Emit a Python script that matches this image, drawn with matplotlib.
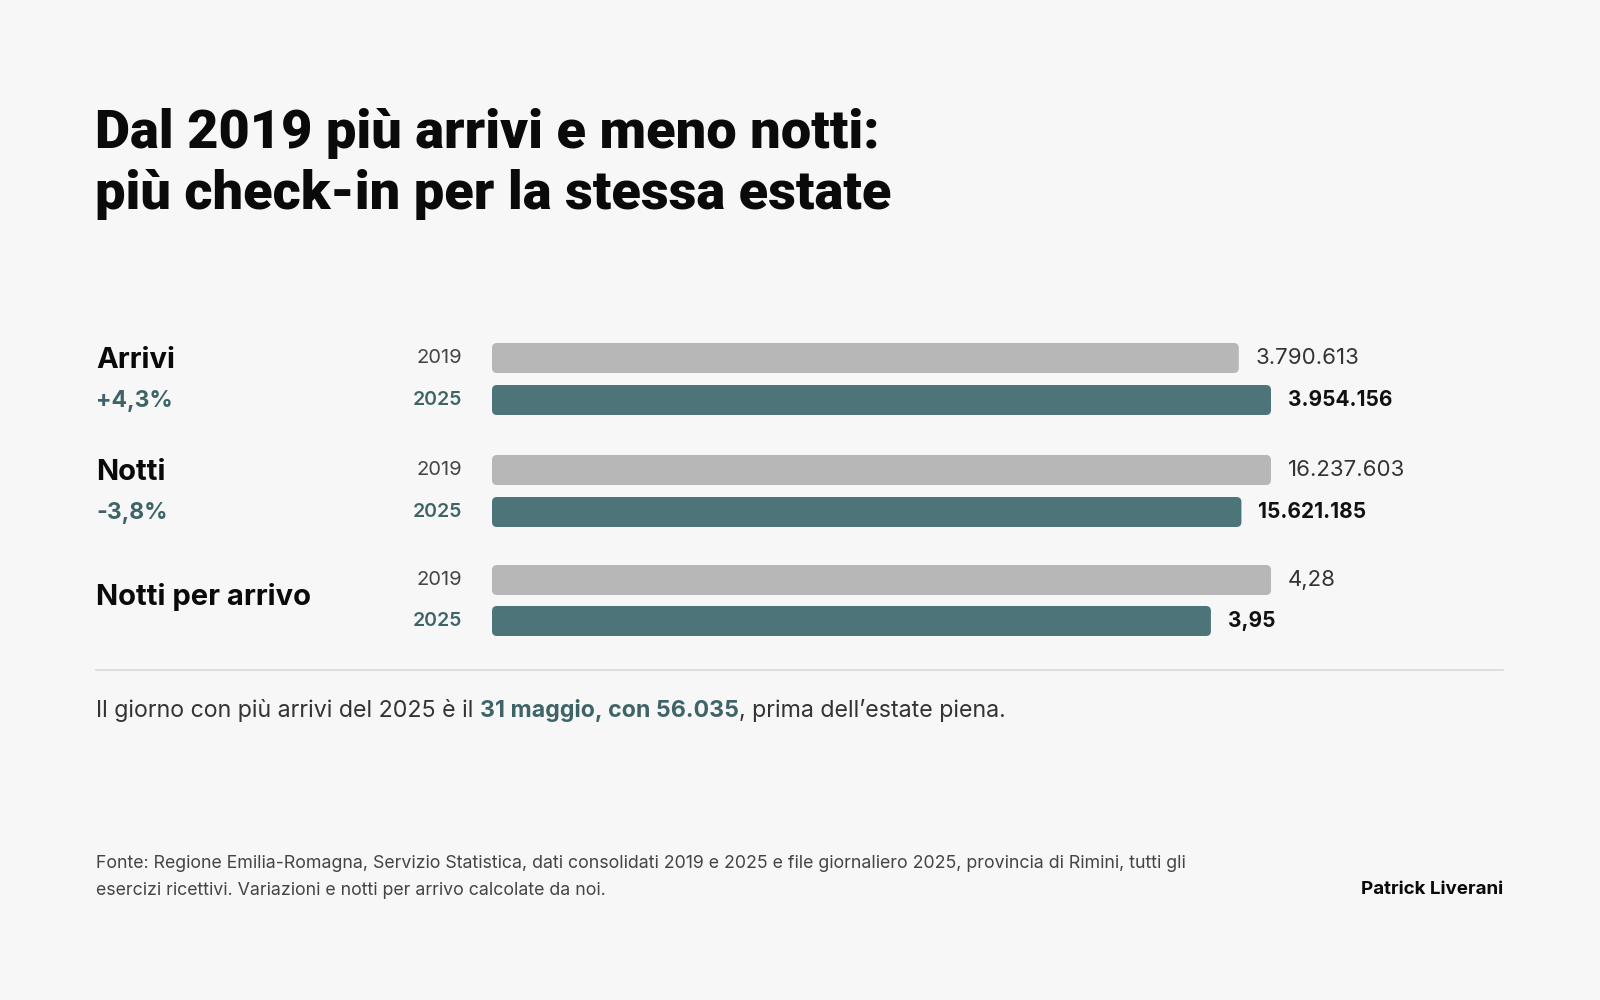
import matplotlib
matplotlib.use("Agg")
import matplotlib.pyplot as plt
from matplotlib.patches import FancyBboxPatch

# ---- data ----
groups = ["Arrivi", "Notti", "Notti per arrivo"]
changes = ["+4,3%", "-3,8%", ""]
years = ["2019", "2025"]
values_2019 = [3790613, 16237603, 4.28]
values_2025 = [3954156, 15621185, 3.95]
labels_2019 = ["3.790.613", "16.237.603", "4,28"]
labels_2025 = ["3.954.156", "15.621.185", "3,95"]

title_lines = ["Dal 2019 più arrivi e meno notti:", "più check-in per la stessa estate"]
note_parts = ["Il giorno con più arrivi del 2025 è il ", "31 maggio, con 56.035", ", prima dell\u2019estate piena."]
source = ("Fonte: Regione Emilia-Romagna, Servizio Statistica, dati consolidati 2019 e 2025 e file giornaliero 2025, provincia di Rimini, tutti gli\n"
          "esercizi ricettivi. Variazioni e notti per arrivo calcolate da noi.")
author = "Patrick Liverani"

# ---- style ----
BG = "#f7f7f7"
GRAY = "#b7b7b7"
TEAL = "#4d7479"
TEAL_TXT = "#3f6468"
DARK = "#333333"
FONT = "Inter"

W, H = 1600, 1000
fig = plt.figure(figsize=(16, 10), dpi=100, facecolor=BG)

def fx(px):
    return px / W

def fy(py):
    return 1 - py / H

LEFT = 96
RIGHT = 1503
BAR_X0 = 492
BAR_X1 = 1271
BAR_H = 30

for ln, base in zip(title_lines, [148, 209]):
    fig.text(fx(LEFT - 1), fy(base), ln, ha="left", va="baseline",
             fontsize=39, fontweight="black", family=["Roboto", "DejaVu Sans"],
             color="#0a0a0a")

group_centers = [(358, 400), (470, 512), (580, 621)]
label_y = [(360, 401), (472, 513), (597, None)]

for i, g in enumerate(groups):
    y19, y25 = group_centers[i]
    top = y19 - BAR_H / 2 - 5
    bot = y25 + BAR_H / 2 + 5
    ax = fig.add_axes([fx(BAR_X0), fy(bot), fx(BAR_X1 - BAR_X0), (bot - top) / H])
    ax.set_axis_off()
    gmax = max(values_2019[i], values_2025[i])
    ax.set_xlim(0, gmax)
    ax.set_ylim(bot, top)
    bars = ax.barh([y19, y25], [values_2019[i], values_2025[i]], height=BAR_H,
                   color=[GRAY, TEAL])
    aspect = (BAR_X1 - BAR_X0) / gmax
    r = 5 / aspect
    for b in bars:
        x0, y0 = b.get_x(), b.get_y()
        w, h = b.get_width(), b.get_height()
        p = FancyBboxPatch((x0, y0), w, h, boxstyle=f"round,pad=0,rounding_size={r}",
                           mutation_aspect=aspect, facecolor=b.get_facecolor(),
                           edgecolor="none")
        b.set_visible(False)
        ax.add_patch(p)
    # value labels
    ax.text(values_2019[i] + 17 / aspect, y19, labels_2019[i], ha="left", va="center",
            fontsize=16, family=FONT, color=DARK, clip_on=False)
    ax.text(values_2025[i] + 17 / aspect, y25, labels_2025[i], ha="left", va="center",
            fontsize=15, family=FONT, fontweight="bold", color="#111111", clip_on=False)
    # year labels
    fig.text(fx(462), fy(y19), years[0], ha="right", va="center", fontsize=14.5,
             family=FONT, color="#444444")
    fig.text(fx(462), fy(y25), years[1], ha="right", va="center", fontsize=14,
             family=FONT, fontweight="semibold", color=TEAL_TXT)
    # group labels
    gy, cy = label_y[i]
    fig.text(fx(LEFT), fy(gy), g, ha="left", va="center", fontsize=21,
             family=FONT, fontweight="bold", color="#0a0a0a")
    if changes[i]:
        fig.text(fx(LEFT), fy(cy), changes[i], ha="left", va="center", fontsize=16.5,
                 family=FONT, fontweight="bold", color=TEAL_TXT)

# separator
fig.add_artist(plt.Line2D([fx(LEFT), fx(RIGHT)], [fy(670), fy(670)], color="#d8d8d8", lw=1.2))

# note sentence with mixed styles
fig.canvas.draw()
renderer = fig.canvas.get_renderer()
x = LEFT
styles = [("normal", DARK), ("bold", TEAL_TXT), ("normal", DARK)]
for part, (wt, col) in zip(note_parts, styles):
    t = fig.text(fx(x), fy(710), part, ha="left", va="center", fontsize=16.7,
                 family=FONT, fontweight=wt, color=col)
    bb = t.get_window_extent(renderer=renderer)
    x += bb.width

# footer
fig.text(fx(LEFT), fy(877), source, ha="left", va="center", fontsize=12.8, family=FONT,
         color="#444444", linespacing=1.7)
fig.text(fx(RIGHT), fy(890), author, ha="right", va="center", fontsize=13.5, family=FONT,
         fontweight="bold", color="#0a0a0a")

fig.savefig("out.png", dpi=100, facecolor=BG)
